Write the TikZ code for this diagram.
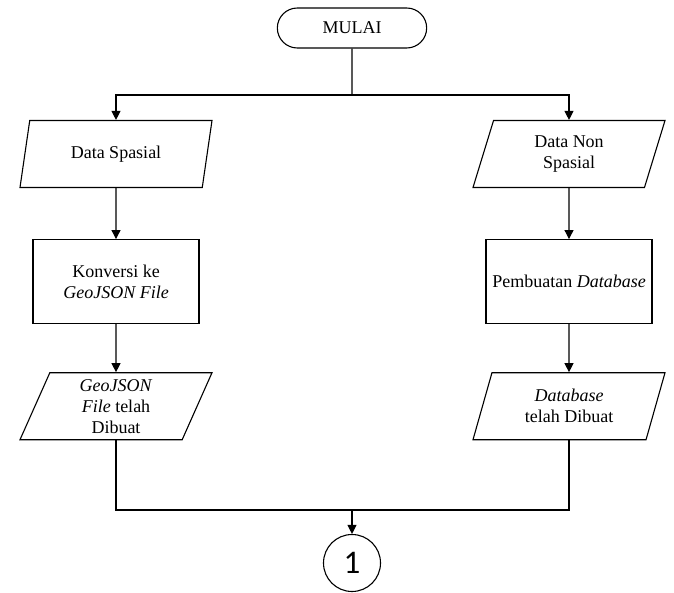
\documentclass[tikz,border=0pt]{standalone}
\usepackage{fontspec}
\setmainfont{Liberation Serif}
\newfontfamily\numfont{Carlito}
\usetikzlibrary{arrows.meta,positioning,shapes.geometric,shapes.misc}

\begin{document}
\begin{tikzpicture}[x=1pt, y=-1pt, line width=1.1pt,
    font=\fontsize{18}{21}\selectfont,
    terminal/.style={draw, rounded rectangle, minimum width=156pt, minimum height=40pt},
    iobox/.style={draw, trapezium, trapezium left angle=62, trapezium right angle=118,
      trapezium stretches body, minimum width=192pt, minimum height=67pt,
      align=center, inner xsep=2pt, inner ysep=1pt},
    procbox/.style={draw, minimum width=166pt, minimum height=84pt, align=center},
    connector/.style={draw, circle, minimum size=57pt, inner sep=0pt, font=\numfont\fontsize{33}{33}\selectfont},
    arr/.style={-{Triangle[length=9pt, width=9pt]}}]
  \useasboundingbox (0,0) rectangle (674,593);

  \node[terminal] (mulai) at (352,28) {MULAI};

  % left branch
  \node[iobox] (spasial) at (116,154) {Data Spasial};
  \node[procbox, below=51pt of spasial] (konversi) {Konversi ke\\\textit{GeoJSON File}};
  \node[iobox, below=48pt of konversi] (geojson) {\textit{GeoJSON}\\\textit{File} telah\\Dibuat};

  % right branch
  \node[iobox] (nonspasial) at (569,154) {Data Non\\Spasial};
  \node[procbox, below=51pt of nonspasial] (pembuatan) {Pembuatan \textit{Database}};
  \node[iobox, below=48pt of pembuatan] (dbdibuat) {\textit{Database}\\telah Dibuat};

  \node[connector] (satu) at (352,563) {1};

  \coordinate (split) at (352,95);
  \coordinate (join) at (352,510);

  \draw (mulai) -- (split);
  \draw[arr] (split) -| (spasial);
  \draw[arr] (split) -| (nonspasial);
  \draw[arr] (spasial) -- (konversi);
  \draw[arr] (konversi) -- (geojson);
  \draw[arr] (nonspasial) -- (pembuatan);
  \draw[arr] (pembuatan) -- (dbdibuat);
  \draw (geojson) |- (join);
  \draw (dbdibuat) |- (join);
  \draw[arr] (join) -- (satu);
\end{tikzpicture}
\end{document}
